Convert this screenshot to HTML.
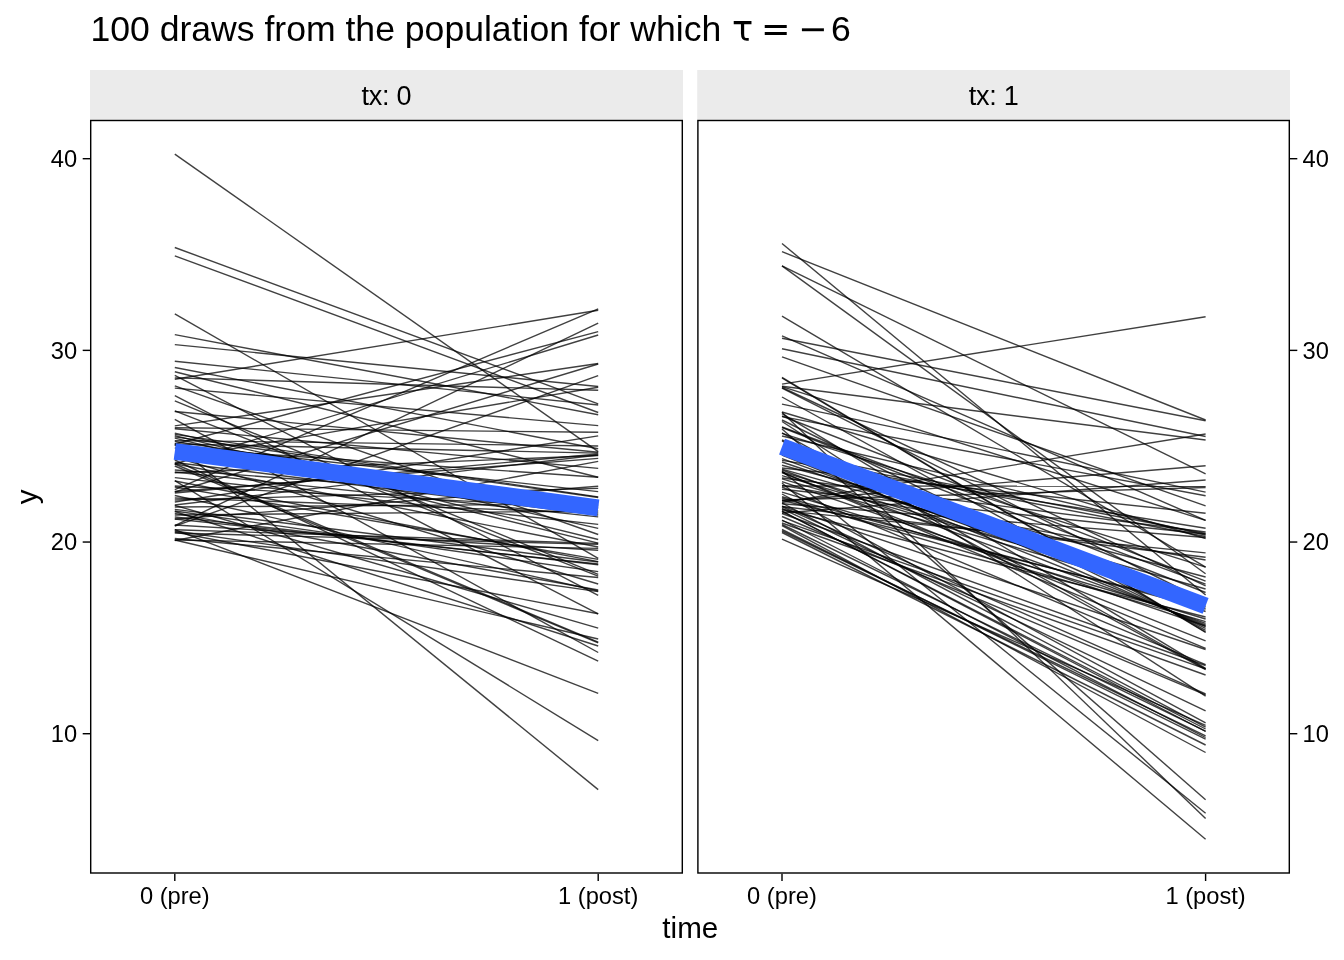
<!DOCTYPE html>
<html lang="en"><head><meta charset="utf-8"><title>100 draws from the population</title>
<style>
html,body{margin:0;padding:0;background:#fff;}
body{width:1344px;height:960px;overflow:hidden;}
svg{display:block;}
text{font-family:"Liberation Sans",Arial,Helvetica,sans-serif;fill:#000;}
.ax{font-size:23.7px;fill:#000;}
.st{font-size:27px;letter-spacing:-0.25px;fill:#000;}
.tt{font-size:35.6px;}
.sy{font-family:"DejaVu Sans","Liberation Sans",sans-serif;font-size:35.2px;}
.al{font-size:29.6px;}
.ln line{stroke:#000;stroke-opacity:0.75;stroke-width:1.4;stroke-linecap:butt;}
.bl{stroke:#3366ff;stroke-width:16.8;stroke-linecap:butt;}
.bd{fill:none;stroke:#000;stroke-width:1.42;}
.tk{stroke:#000;stroke-width:1.42;}
</style></head><body>
<svg width="1344" height="960" viewBox="0 0 1344 960">
<rect x="0" y="0" width="1344" height="960" fill="#fff"/>

<text class="tt" x="90.4" y="40.6">100 draws from the population for which</text>
<text class="tt sy" x="732" y="40.6">τ</text>
<text class="tt sy" x="761" y="41.3">=</text>
<text class="tt sy" x="798" y="41.3">−</text>
<text class="tt" x="831" y="40.6">6</text>
<rect x="90" y="70" width="593" height="50.2" fill="#ebebeb"/>
<rect x="697.2" y="70" width="592.8" height="50.2" fill="#ebebeb"/>
<text class="st" x="386.5" y="104.8" text-anchor="middle">tx: 0</text>
<text class="st" x="993.6" y="104.8" text-anchor="middle">tx: 1</text>
<g class="ln">
<line x1="174.8" y1="489.7" x2="598.2" y2="308.8"/>
<line x1="174.8" y1="379.2" x2="598.2" y2="310.3"/>
<line x1="174.8" y1="525.6" x2="598.2" y2="323.1"/>
<line x1="174.8" y1="444.0" x2="598.2" y2="331.6"/>
<line x1="174.8" y1="464.0" x2="598.2" y2="335.0"/>
<line x1="174.8" y1="425.9" x2="598.2" y2="363.5"/>
<line x1="174.8" y1="492.0" x2="598.2" y2="364.0"/>
<line x1="174.8" y1="526.2" x2="598.2" y2="375.6"/>
<line x1="174.8" y1="344.6" x2="598.2" y2="386.5"/>
<line x1="174.8" y1="458.5" x2="598.2" y2="387.2"/>
<line x1="174.8" y1="377.9" x2="598.2" y2="390.3"/>
<line x1="174.8" y1="247.5" x2="598.2" y2="403.8"/>
<line x1="174.8" y1="361.2" x2="598.2" y2="405.0"/>
<line x1="174.8" y1="255.8" x2="598.2" y2="412.5"/>
<line x1="174.8" y1="334.6" x2="598.2" y2="414.7"/>
<line x1="174.8" y1="388.1" x2="598.2" y2="425.6"/>
<line x1="174.8" y1="427.8" x2="598.2" y2="432.3"/>
<line x1="174.8" y1="502.0" x2="598.2" y2="435.9"/>
<line x1="174.8" y1="367.5" x2="598.2" y2="448.8"/>
<line x1="174.8" y1="154.1" x2="598.2" y2="451.6"/>
<line x1="174.8" y1="411.5" x2="598.2" y2="452.2"/>
<line x1="174.8" y1="444.0" x2="598.2" y2="453.1"/>
<line x1="174.8" y1="493.0" x2="598.2" y2="454.0"/>
<line x1="174.8" y1="505.0" x2="598.2" y2="455.0"/>
<line x1="174.8" y1="491.5" x2="598.2" y2="458.4"/>
<line x1="174.8" y1="540.5" x2="598.2" y2="461.4"/>
<line x1="174.8" y1="428.8" x2="598.2" y2="468.4"/>
<line x1="174.8" y1="371.7" x2="598.2" y2="477.2"/>
<line x1="174.8" y1="448.0" x2="598.2" y2="477.2"/>
<line x1="174.8" y1="519.0" x2="598.2" y2="486.2"/>
<line x1="174.8" y1="500.0" x2="598.2" y2="488.4"/>
<line x1="174.8" y1="444.8" x2="598.2" y2="491.6"/>
<line x1="174.8" y1="434.4" x2="598.2" y2="496.9"/>
<line x1="174.8" y1="436.9" x2="598.2" y2="497.5"/>
<line x1="174.8" y1="472.0" x2="598.2" y2="516.9"/>
<line x1="174.8" y1="477.6" x2="598.2" y2="524.4"/>
<line x1="174.8" y1="433.1" x2="598.2" y2="528.4"/>
<line x1="174.8" y1="385.9" x2="598.2" y2="534.5"/>
<line x1="174.8" y1="435.6" x2="598.2" y2="539.5"/>
<line x1="174.8" y1="438.1" x2="598.2" y2="543.1"/>
<line x1="174.8" y1="529.8" x2="598.2" y2="543.4"/>
<line x1="174.8" y1="533.0" x2="598.2" y2="544.4"/>
<line x1="174.8" y1="540.0" x2="598.2" y2="548.4"/>
<line x1="174.8" y1="525.0" x2="598.2" y2="550.3"/>
<line x1="174.8" y1="313.8" x2="598.2" y2="558.4"/>
<line x1="174.8" y1="487.0" x2="598.2" y2="559.4"/>
<line x1="174.8" y1="481.0" x2="598.2" y2="561.6"/>
<line x1="174.8" y1="519.0" x2="598.2" y2="564.0"/>
<line x1="174.8" y1="517.0" x2="598.2" y2="564.7"/>
<line x1="174.8" y1="511.0" x2="598.2" y2="571.6"/>
<line x1="174.8" y1="400.9" x2="598.2" y2="574.4"/>
<line x1="174.8" y1="410.9" x2="598.2" y2="576.2"/>
<line x1="174.8" y1="538.5" x2="598.2" y2="577.5"/>
<line x1="174.8" y1="457.0" x2="598.2" y2="584.0"/>
<line x1="174.8" y1="495.5" x2="598.2" y2="591.0"/>
<line x1="174.8" y1="531.0" x2="598.2" y2="591.6"/>
<line x1="174.8" y1="375.4" x2="598.2" y2="595.3"/>
<line x1="174.8" y1="395.6" x2="598.2" y2="613.8"/>
<line x1="174.8" y1="532.0" x2="598.2" y2="613.8"/>
<line x1="174.8" y1="505.3" x2="598.2" y2="628.1"/>
<line x1="174.8" y1="540.0" x2="598.2" y2="639.0"/>
<line x1="174.8" y1="464.0" x2="598.2" y2="642.2"/>
<line x1="174.8" y1="466.0" x2="598.2" y2="642.8"/>
<line x1="174.8" y1="511.5" x2="598.2" y2="646.0"/>
<line x1="174.8" y1="419.4" x2="598.2" y2="652.5"/>
<line x1="174.8" y1="460.0" x2="598.2" y2="661.2"/>
<line x1="174.8" y1="529.7" x2="598.2" y2="693.4"/>
<line x1="174.8" y1="480.6" x2="598.2" y2="740.6"/>
<line x1="174.8" y1="444.7" x2="598.2" y2="789.6"/>
<line x1="174.8" y1="440.6" x2="598.2" y2="446.0"/>
<line x1="174.8" y1="441.5" x2="598.2" y2="506.0"/>
<line x1="174.8" y1="470.0" x2="598.2" y2="502.0"/>
<line x1="174.8" y1="486.0" x2="598.2" y2="508.0"/>
<line x1="174.8" y1="498.0" x2="598.2" y2="513.0"/>
<line x1="174.8" y1="507.0" x2="598.2" y2="504.0"/>
<line x1="174.8" y1="515.0" x2="598.2" y2="511.0"/>
<line x1="174.8" y1="462.5" x2="598.2" y2="515.0"/>
<line x1="174.8" y1="463.7" x2="598.2" y2="547.0"/>
<line x1="174.8" y1="472.8" x2="598.2" y2="455.5"/>
<line x1="174.8" y1="509.4" x2="598.2" y2="562.0"/>
<line x1="174.8" y1="513.4" x2="598.2" y2="590.0"/>
</g>
<line class="bl" x1="174.8" y1="451.5" x2="598.2" y2="507.8"/>
<g class="ln">
<line x1="782.0" y1="384.1" x2="1205.6" y2="316.7"/>
<line x1="782.0" y1="251.7" x2="1205.6" y2="420.0"/>
<line x1="782.0" y1="338.2" x2="1205.6" y2="420.8"/>
<line x1="782.0" y1="502.5" x2="1205.6" y2="434.0"/>
<line x1="782.0" y1="348.8" x2="1205.6" y2="436.5"/>
<line x1="782.0" y1="386.2" x2="1205.6" y2="440.0"/>
<line x1="782.0" y1="501.0" x2="1205.6" y2="465.7"/>
<line x1="782.0" y1="265.9" x2="1205.6" y2="473.8"/>
<line x1="782.0" y1="513.0" x2="1205.6" y2="480.0"/>
<line x1="782.0" y1="486.0" x2="1205.6" y2="486.2"/>
<line x1="782.0" y1="500.0" x2="1205.6" y2="487.5"/>
<line x1="782.0" y1="404.1" x2="1205.6" y2="492.1"/>
<line x1="782.0" y1="416.6" x2="1205.6" y2="495.8"/>
<line x1="782.0" y1="356.8" x2="1205.6" y2="505.8"/>
<line x1="782.0" y1="468.0" x2="1205.6" y2="513.2"/>
<line x1="782.0" y1="335.8" x2="1205.6" y2="520.4"/>
<line x1="782.0" y1="386.6" x2="1205.6" y2="520.4"/>
<line x1="782.0" y1="460.4" x2="1205.6" y2="528.2"/>
<line x1="782.0" y1="478.0" x2="1205.6" y2="532.0"/>
<line x1="782.0" y1="452.0" x2="1205.6" y2="533.5"/>
<line x1="782.0" y1="436.0" x2="1205.6" y2="535.0"/>
<line x1="782.0" y1="455.0" x2="1205.6" y2="536.5"/>
<line x1="782.0" y1="412.0" x2="1205.6" y2="538.5"/>
<line x1="782.0" y1="510.6" x2="1205.6" y2="552.9"/>
<line x1="782.0" y1="506.5" x2="1205.6" y2="557.3"/>
<line x1="782.0" y1="316.2" x2="1205.6" y2="567.1"/>
<line x1="782.0" y1="433.4" x2="1205.6" y2="567.1"/>
<line x1="782.0" y1="265.9" x2="1205.6" y2="573.8"/>
<line x1="782.0" y1="416.0" x2="1205.6" y2="581.2"/>
<line x1="782.0" y1="427.0" x2="1205.6" y2="584.2"/>
<line x1="782.0" y1="387.5" x2="1205.6" y2="585.8"/>
<line x1="782.0" y1="427.5" x2="1205.6" y2="592.5"/>
<line x1="782.0" y1="243.5" x2="1205.6" y2="595.0"/>
<line x1="782.0" y1="509.0" x2="1205.6" y2="617.0"/>
<line x1="782.0" y1="498.0" x2="1205.6" y2="621.7"/>
<line x1="782.0" y1="470.0" x2="1205.6" y2="623.3"/>
<line x1="782.0" y1="455.0" x2="1205.6" y2="625.0"/>
<line x1="782.0" y1="440.0" x2="1205.6" y2="626.7"/>
<line x1="782.0" y1="420.0" x2="1205.6" y2="628.3"/>
<line x1="782.0" y1="397.0" x2="1205.6" y2="630.4"/>
<line x1="782.0" y1="377.4" x2="1205.6" y2="632.0"/>
<line x1="782.0" y1="378.0" x2="1205.6" y2="632.5"/>
<line x1="782.0" y1="472.4" x2="1205.6" y2="640.8"/>
<line x1="782.0" y1="472.5" x2="1205.6" y2="648.3"/>
<line x1="782.0" y1="487.0" x2="1205.6" y2="664.6"/>
<line x1="782.0" y1="413.7" x2="1205.6" y2="668.3"/>
<line x1="782.0" y1="432.8" x2="1205.6" y2="669.0"/>
<line x1="782.0" y1="441.0" x2="1205.6" y2="669.6"/>
<line x1="782.0" y1="523.0" x2="1205.6" y2="675.0"/>
<line x1="782.0" y1="506.8" x2="1205.6" y2="693.8"/>
<line x1="782.0" y1="421.5" x2="1205.6" y2="696.2"/>
<line x1="782.0" y1="508.6" x2="1205.6" y2="710.8"/>
<line x1="782.0" y1="494.0" x2="1205.6" y2="722.9"/>
<line x1="782.0" y1="539.2" x2="1205.6" y2="725.4"/>
<line x1="782.0" y1="503.0" x2="1205.6" y2="727.1"/>
<line x1="782.0" y1="524.5" x2="1205.6" y2="731.2"/>
<line x1="782.0" y1="511.0" x2="1205.6" y2="731.5"/>
<line x1="782.0" y1="531.0" x2="1205.6" y2="735.8"/>
<line x1="782.0" y1="520.0" x2="1205.6" y2="737.5"/>
<line x1="782.0" y1="529.5" x2="1205.6" y2="739.2"/>
<line x1="782.0" y1="532.5" x2="1205.6" y2="745.0"/>
<line x1="782.0" y1="525.7" x2="1205.6" y2="752.5"/>
<line x1="782.0" y1="429.0" x2="1205.6" y2="799.7"/>
<line x1="782.0" y1="471.0" x2="1205.6" y2="813.2"/>
<line x1="782.0" y1="412.3" x2="1205.6" y2="818.4"/>
<line x1="782.0" y1="483.0" x2="1205.6" y2="839.3"/>
<line x1="782.0" y1="475.7" x2="1205.6" y2="599.0"/>
<line x1="782.0" y1="471.8" x2="1205.6" y2="601.0"/>
<line x1="782.0" y1="478.9" x2="1205.6" y2="603.0"/>
<line x1="782.0" y1="462.0" x2="1205.6" y2="605.0"/>
<line x1="782.0" y1="500.3" x2="1205.6" y2="607.0"/>
<line x1="782.0" y1="496.7" x2="1205.6" y2="609.0"/>
<line x1="782.0" y1="458.7" x2="1205.6" y2="611.5"/>
<line x1="782.0" y1="492.1" x2="1205.6" y2="619.0"/>
<line x1="782.0" y1="481.6" x2="1205.6" y2="626.0"/>
<line x1="782.0" y1="511.3" x2="1205.6" y2="729.0"/>
<line x1="782.0" y1="465.2" x2="1205.6" y2="577.0"/>
<line x1="782.0" y1="469.1" x2="1205.6" y2="589.0"/>
<line x1="782.0" y1="489.2" x2="1205.6" y2="534.0"/>
<line x1="782.0" y1="503.7" x2="1205.6" y2="537.5"/>
<line x1="782.0" y1="485.4" x2="1205.6" y2="560.0"/>
<line x1="782.0" y1="513.5" x2="1205.6" y2="665.5"/>
<line x1="782.0" y1="520.6" x2="1205.6" y2="668.8"/>
<line x1="782.0" y1="516.5" x2="1205.6" y2="694.8"/>
<line x1="782.0" y1="506.2" x2="1205.6" y2="649.5"/>
<line x1="782.0" y1="388.2" x2="1205.6" y2="601.5"/>
</g>
<line class="bl" x1="782.0" y1="446.6" x2="1205.6" y2="605.8"/>
<rect class="bd" x="90.7" y="120.5" width="591.6" height="752.5"/>
<rect class="bd" x="697.9" y="120.5" width="591.4" height="752.5"/>
<line class="tk" x1="82.7" y1="733.71" x2="90" y2="733.71"/>
<line class="tk" x1="1290" y1="733.71" x2="1297.3" y2="733.71"/>
<text class="ax" x="77.2" y="742.0" text-anchor="end">10</text>
<text class="ax" x="1302.6" y="742.0">10</text>
<line class="tk" x1="82.7" y1="542.04" x2="90" y2="542.04"/>
<line class="tk" x1="1290" y1="542.04" x2="1297.3" y2="542.04"/>
<text class="ax" x="77.2" y="550.3" text-anchor="end">20</text>
<text class="ax" x="1302.6" y="550.3">20</text>
<line class="tk" x1="82.7" y1="350.37" x2="90" y2="350.37"/>
<line class="tk" x1="1290" y1="350.37" x2="1297.3" y2="350.37"/>
<text class="ax" x="77.2" y="358.7" text-anchor="end">30</text>
<text class="ax" x="1302.6" y="358.7">30</text>
<line class="tk" x1="82.7" y1="158.70" x2="90" y2="158.70"/>
<line class="tk" x1="1290" y1="158.70" x2="1297.3" y2="158.70"/>
<text class="ax" x="77.2" y="167.0" text-anchor="end">40</text>
<text class="ax" x="1302.6" y="167.0">40</text>
<line class="tk" x1="174.8" y1="873.7" x2="174.8" y2="881"/>
<text class="ax" x="174.8" y="904.3" text-anchor="middle">0 (pre)</text>
<line class="tk" x1="598.2" y1="873.7" x2="598.2" y2="881"/>
<text class="ax" x="598.2" y="904.3" text-anchor="middle">1 (post)</text>
<line class="tk" x1="782.0" y1="873.7" x2="782.0" y2="881"/>
<text class="ax" x="782.0" y="904.3" text-anchor="middle">0 (pre)</text>
<line class="tk" x1="1205.6" y1="873.7" x2="1205.6" y2="881"/>
<text class="ax" x="1205.6" y="904.3" text-anchor="middle">1 (post)</text>
<text class="al" x="690.3" y="938" text-anchor="middle">time</text>
<text class="al" transform="translate(36.7,496.8) rotate(-90)" text-anchor="middle">y</text>
</svg>
</body></html>
